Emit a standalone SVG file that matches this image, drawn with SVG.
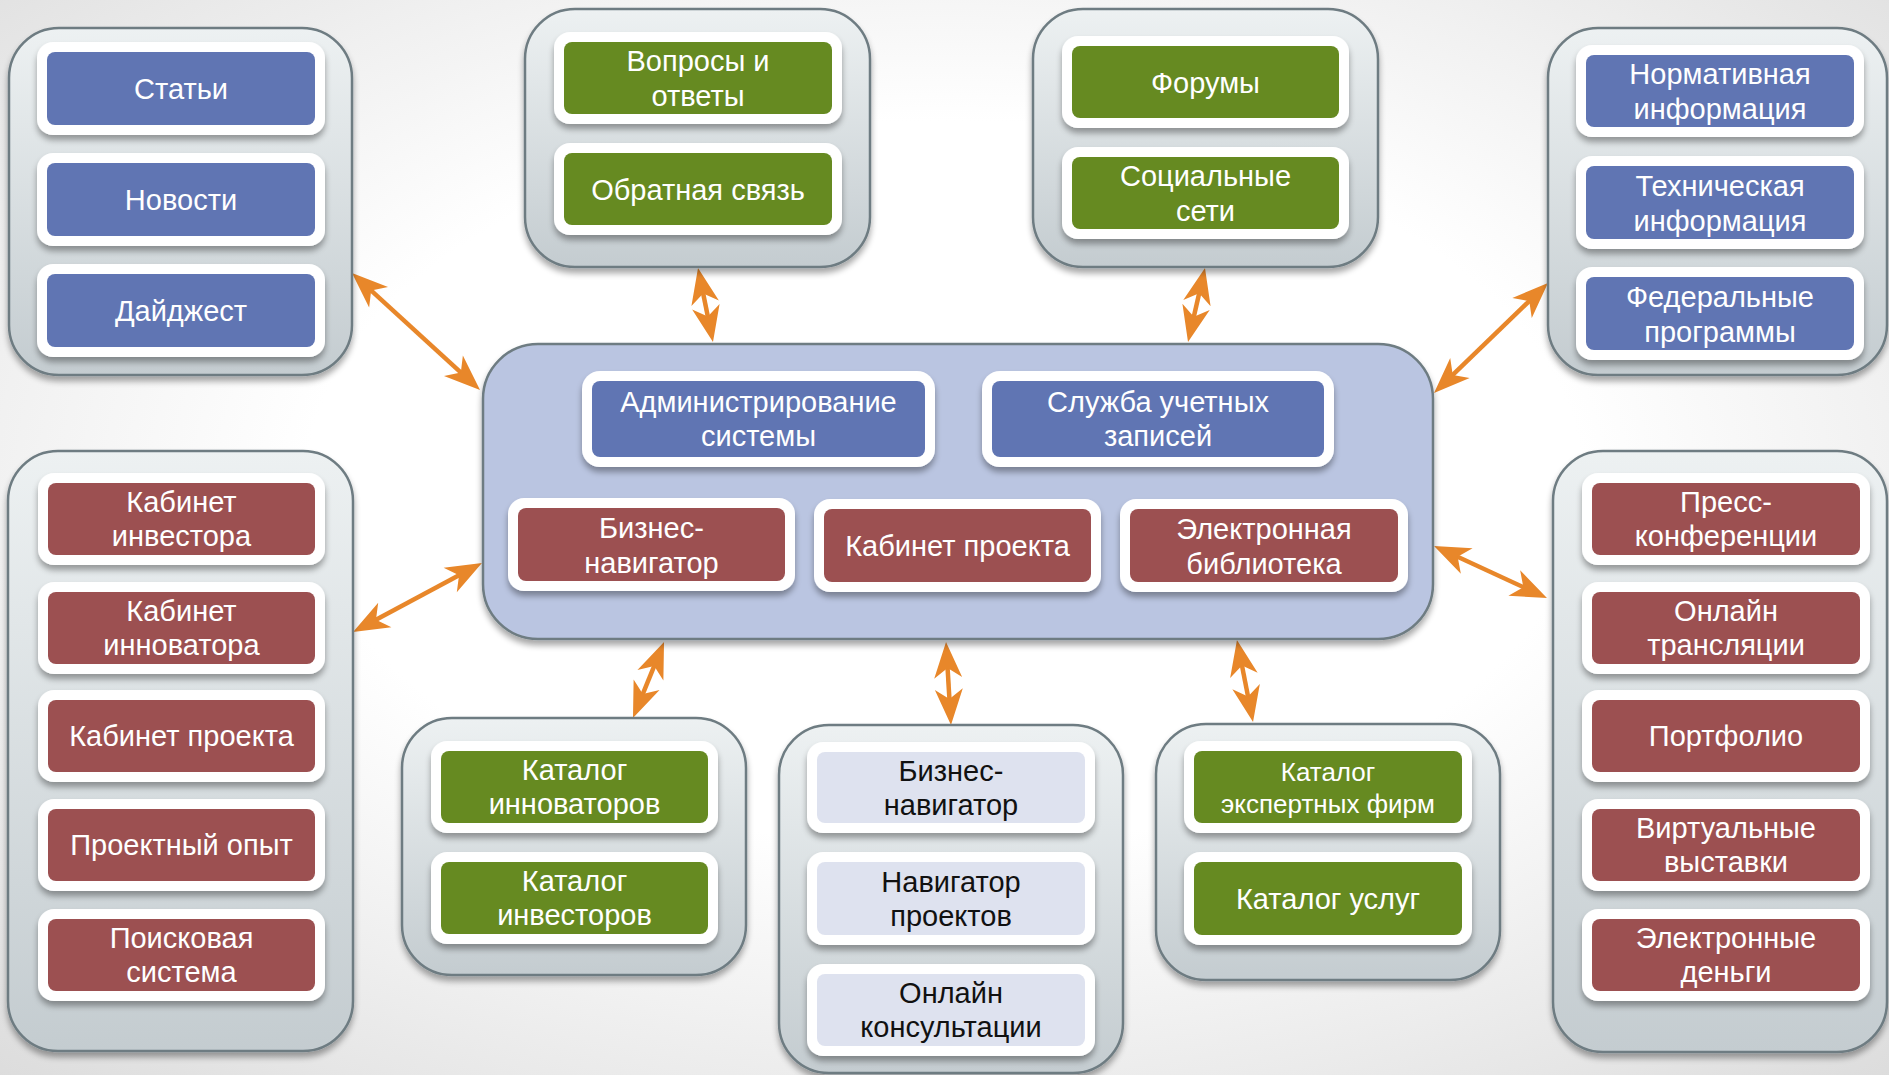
<svg xmlns="http://www.w3.org/2000/svg" width="1889" height="1075" viewBox="0 0 1889 1075">
<defs>
<radialGradient id="bg" cx="50%" cy="45%" r="75%">
<stop offset="0.45" stop-color="#ffffff"/>
<stop offset="1" stop-color="#dcdcdc"/>
</radialGradient>
<linearGradient id="cg" x1="0" y1="0" x2="0" y2="1">
<stop offset="0" stop-color="#edf1f2"/>
<stop offset="1" stop-color="#c4ccd0"/>
</linearGradient>
<filter id="sh" x="-10%" y="-10%" width="120%" height="130%">
<feGaussianBlur in="SourceAlpha" stdDeviation="3"/>
<feOffset dx="0" dy="5" result="o"/>
<feComponentTransfer><feFuncA type="linear" slope="0.35"/></feComponentTransfer>
<feMerge><feMergeNode/><feMergeNode in="SourceGraphic"/></feMerge>
</filter>
<marker id="ah" markerUnits="userSpaceOnUse" viewBox="-38 -16 40 32" markerWidth="40" markerHeight="32" refX="-8" refY="0" orient="auto-start-reverse">
<path d="M0,0 L-36,-14 L-26,0 L-36,14 Z" fill="#e8872a"/>
</marker>
<style>
.c{fill:url(#cg);stroke:#6e7c82;stroke-width:2.5;filter:url(#sh)}
.cc{fill:#bac5e1;stroke:#6e7c82;stroke-width:2.5;filter:url(#sh)}
.w{fill:#ffffff;filter:url(#sh)}
.b{fill:#6075b3}
.r{fill:#9c5051}
.g{fill:#668a21}
.l{fill:#dee2ef}
text{font-family:"Liberation Sans",Arial,sans-serif;font-size:29px;fill:#ffffff;text-anchor:middle}
text.d{fill:#111111}
text.s{font-size:26px}
.a{stroke:#e8872a;stroke-width:4.5;fill:none;marker-start:url(#ah);marker-end:url(#ah)}
</style>
</defs>
<rect x="0" y="0" width="1889" height="1075" fill="url(#bg)"/>

<g id="connectors">
<line class="a" x1="699.6" y1="275.8" x2="711.4" y2="334.2"/>
<line class="a" x1="1203.2" y1="275.8" x2="1189.8" y2="334.2"/>
<line class="a" x1="357.9" y1="278.4" x2="474.1" y2="384.6"/>
<line class="a" x1="1542.2" y1="288.6" x2="1439.8" y2="387.4"/>
<line class="a" x1="360.1" y1="628.2" x2="474.9" y2="566.8"/>
<line class="a" x1="1441.3" y1="549.3" x2="1539.7" y2="594.7"/>
<line class="a" x1="661" y1="649.4" x2="636" y2="710.6"/>
<line class="a" x1="946.5" y1="650" x2="950.5" y2="717"/>
<line class="a" x1="1238.5" y1="647.9" x2="1251.5" y2="714.1"/>
</g>

<g id="group-top-left">
<rect class="c" x="9" y="28" width="343" height="347" rx="50"/>
<g id="n-stati"><rect class="w" x="37" y="42" width="288" height="93" rx="16"/><rect class="b" x="47" y="52" width="268" height="73" rx="8"/><text x="181" y="99">Статьи</text></g>
<g id="n-novosti"><rect class="w" x="37" y="153" width="288" height="93" rx="16"/><rect class="b" x="47" y="163" width="268" height="73" rx="8"/><text x="181" y="210">Новости</text></g>
<g id="n-daidzhest"><rect class="w" x="37" y="264" width="288" height="93" rx="16"/><rect class="b" x="47" y="274" width="268" height="73" rx="8"/><text x="181" y="321">Дайджест</text></g>
</g>

<g id="group-top-center-left">
<rect class="c" x="525" y="9" width="345" height="258" rx="50"/>
<g id="n-voprosy"><rect class="w" x="554" y="32" width="288" height="92" rx="16"/><rect class="g" x="564" y="42" width="268" height="72" rx="8"/><text x="698" y="71">Вопросы и</text><text x="698" y="106">ответы</text></g>
<g id="n-obratnaya"><rect class="w" x="554" y="143" width="288" height="92" rx="16"/><rect class="g" x="564" y="153" width="268" height="72" rx="8"/><text x="698" y="200">Обратная связь</text></g>
</g>

<g id="group-top-center-right">
<rect class="c" x="1033" y="9" width="345" height="258" rx="50"/>
<g id="n-forumy"><rect class="w" x="1062" y="36" width="287" height="92" rx="16"/><rect class="g" x="1072" y="46" width="267" height="72" rx="8"/><text x="1205.5" y="93">Форумы</text></g>
<g id="n-socseti"><rect class="w" x="1062" y="147" width="287" height="92" rx="16"/><rect class="g" x="1072" y="157" width="267" height="72" rx="8"/><text x="1205.5" y="186">Социальные</text><text x="1205.5" y="221">сети</text></g>
</g>

<g id="group-top-right">
<rect class="c" x="1548" y="28" width="339" height="347" rx="50"/>
<g id="n-normativ"><rect class="w" x="1576" y="45" width="288" height="92" rx="16"/><rect class="b" x="1586" y="55" width="268" height="72" rx="8"/><text x="1720" y="84">Нормативная</text><text x="1720" y="119">информация</text></g>
<g id="n-tehnich"><rect class="w" x="1576" y="156" width="288" height="93" rx="16"/><rect class="b" x="1586" y="166" width="268" height="73" rx="8"/><text x="1720" y="195.5">Техническая</text><text x="1720" y="230.5">информация</text></g>
<g id="n-federal"><rect class="w" x="1576" y="267" width="288" height="93" rx="16"/><rect class="b" x="1586" y="277" width="268" height="73" rx="8"/><text x="1720" y="306.5">Федеральные</text><text x="1720" y="341.5">программы</text></g>
</g>

<g id="group-center">
<rect class="cc" x="483" y="344" width="950" height="295" rx="55"/>
<g id="n-admin"><rect class="w" x="582" y="371" width="353" height="96" rx="18"/><rect class="b" x="592" y="381" width="333" height="76" rx="8"/><text x="758.5" y="412">Администрирование</text><text x="758.5" y="446">системы</text></g>
<g id="n-sluzhba"><rect class="w" x="982" y="371" width="352" height="96" rx="18"/><rect class="b" x="992" y="381" width="332" height="76" rx="8"/><text x="1158" y="412">Служба учетных</text><text x="1158" y="446">записей</text></g>
<g id="n-biznes-c"><rect class="w" x="508" y="498" width="287" height="93" rx="16"/><rect class="r" x="518" y="508" width="267" height="73" rx="8"/><text x="651.5" y="537.5">Бизнес-</text><text x="651.5" y="572.5">навигатор</text></g>
<g id="n-kabinet-c"><rect class="w" x="814" y="499" width="287" height="93" rx="16"/><rect class="r" x="824" y="509" width="267" height="73" rx="8"/><text x="957.5" y="556">Кабинет проекта</text></g>
<g id="n-elbib"><rect class="w" x="1120" y="499" width="288" height="93" rx="16"/><rect class="r" x="1130" y="509" width="268" height="73" rx="8"/><text x="1264" y="538.5">Электронная</text><text x="1264" y="573.5">библиотека</text></g>
</g>

<g id="group-mid-left">
<rect class="c" x="8" y="451" width="345" height="600" rx="50"/>
<g id="n-kab-invest"><rect class="w" x="38" y="473" width="287" height="92" rx="16"/><rect class="r" x="48" y="483" width="267" height="72" rx="8"/><text x="181.5" y="512">Кабинет</text><text x="181.5" y="546">инвестора</text></g>
<g id="n-kab-innov"><rect class="w" x="38" y="582" width="287" height="92" rx="16"/><rect class="r" x="48" y="592" width="267" height="72" rx="8"/><text x="181.5" y="621">Кабинет</text><text x="181.5" y="655">инноватора</text></g>
<g id="n-kab-proekt"><rect class="w" x="38" y="690" width="287" height="92" rx="16"/><rect class="r" x="48" y="700" width="267" height="72" rx="8"/><text x="181.5" y="746">Кабинет проекта</text></g>
<g id="n-opyt"><rect class="w" x="38" y="799" width="287" height="92" rx="16"/><rect class="r" x="48" y="809" width="267" height="72" rx="8"/><text x="181.5" y="855">Проектный опыт</text></g>
<g id="n-poisk"><rect class="w" x="38" y="909" width="287" height="92" rx="16"/><rect class="r" x="48" y="919" width="267" height="72" rx="8"/><text x="181.5" y="948">Поисковая</text><text x="181.5" y="982">система</text></g>
</g>

<g id="group-mid-right">
<rect class="c" x="1553" y="451" width="334" height="601" rx="50"/>
<g id="n-press"><rect class="w" x="1582" y="473" width="288" height="92" rx="16"/><rect class="r" x="1592" y="483" width="268" height="72" rx="8"/><text x="1726" y="512">Пресс-</text><text x="1726" y="546">конференции</text></g>
<g id="n-online-tr"><rect class="w" x="1582" y="582" width="288" height="92" rx="16"/><rect class="r" x="1592" y="592" width="268" height="72" rx="8"/><text x="1726" y="621">Онлайн</text><text x="1726" y="655">трансляции</text></g>
<g id="n-portfolio"><rect class="w" x="1582" y="690" width="288" height="92" rx="16"/><rect class="r" x="1592" y="700" width="268" height="72" rx="8"/><text x="1726" y="746">Портфолио</text></g>
<g id="n-virtual"><rect class="w" x="1582" y="799" width="288" height="92" rx="16"/><rect class="r" x="1592" y="809" width="268" height="72" rx="8"/><text x="1726" y="838">Виртуальные</text><text x="1726" y="872">выставки</text></g>
<g id="n-dengi"><rect class="w" x="1582" y="909" width="288" height="92" rx="16"/><rect class="r" x="1592" y="919" width="268" height="72" rx="8"/><text x="1726" y="948">Электронные</text><text x="1726" y="982">деньги</text></g>
</g>

<g id="group-bottom-left">
<rect class="c" x="402" y="718" width="344" height="257" rx="50"/>
<g id="n-kat-innov"><rect class="w" x="431" y="741" width="287" height="92" rx="16"/><rect class="g" x="441" y="751" width="267" height="72" rx="8"/><text x="574.5" y="780">Каталог</text><text x="574.5" y="814">инноваторов</text></g>
<g id="n-kat-invest"><rect class="w" x="431" y="852" width="287" height="92" rx="16"/><rect class="g" x="441" y="862" width="267" height="72" rx="8"/><text x="574.5" y="891">Каталог</text><text x="574.5" y="925">инвесторов</text></g>
</g>

<g id="group-bottom-middle">
<rect class="c" x="779" y="725" width="344" height="348" rx="50"/>
<g id="n-biznes-b"><rect class="w" x="807" y="742" width="288" height="91" rx="16"/><rect class="l" x="817" y="752" width="268" height="71" rx="8"/><text class="d" x="951" y="780.5">Бизнес-</text><text class="d" x="951" y="814.5">навигатор</text></g>
<g id="n-nav-proekt"><rect class="w" x="807" y="852" width="288" height="93" rx="16"/><rect class="l" x="817" y="862" width="268" height="73" rx="8"/><text class="d" x="951" y="891.5">Навигатор</text><text class="d" x="951" y="925.5">проектов</text></g>
<g id="n-online-k"><rect class="w" x="807" y="964" width="288" height="92" rx="16"/><rect class="l" x="817" y="974" width="268" height="72" rx="8"/><text class="d" x="951" y="1003">Онлайн</text><text class="d" x="951" y="1037">консультации</text></g>
</g>

<g id="group-bottom-right">
<rect class="c" x="1156" y="724" width="344" height="256" rx="50"/>
<g id="n-kat-ekspert"><rect class="w" x="1184" y="741" width="288" height="92" rx="16"/><rect class="g" x="1194" y="751" width="268" height="72" rx="8"/><text class="s" x="1328" y="781">Каталог</text><text class="s" x="1328" y="813">экспертных фирм</text></g>
<g id="n-kat-uslug"><rect class="w" x="1184" y="852" width="288" height="93" rx="16"/><rect class="g" x="1194" y="862" width="268" height="73" rx="8"/><text x="1328" y="909">Каталог услуг</text></g>
</g>
</svg>
